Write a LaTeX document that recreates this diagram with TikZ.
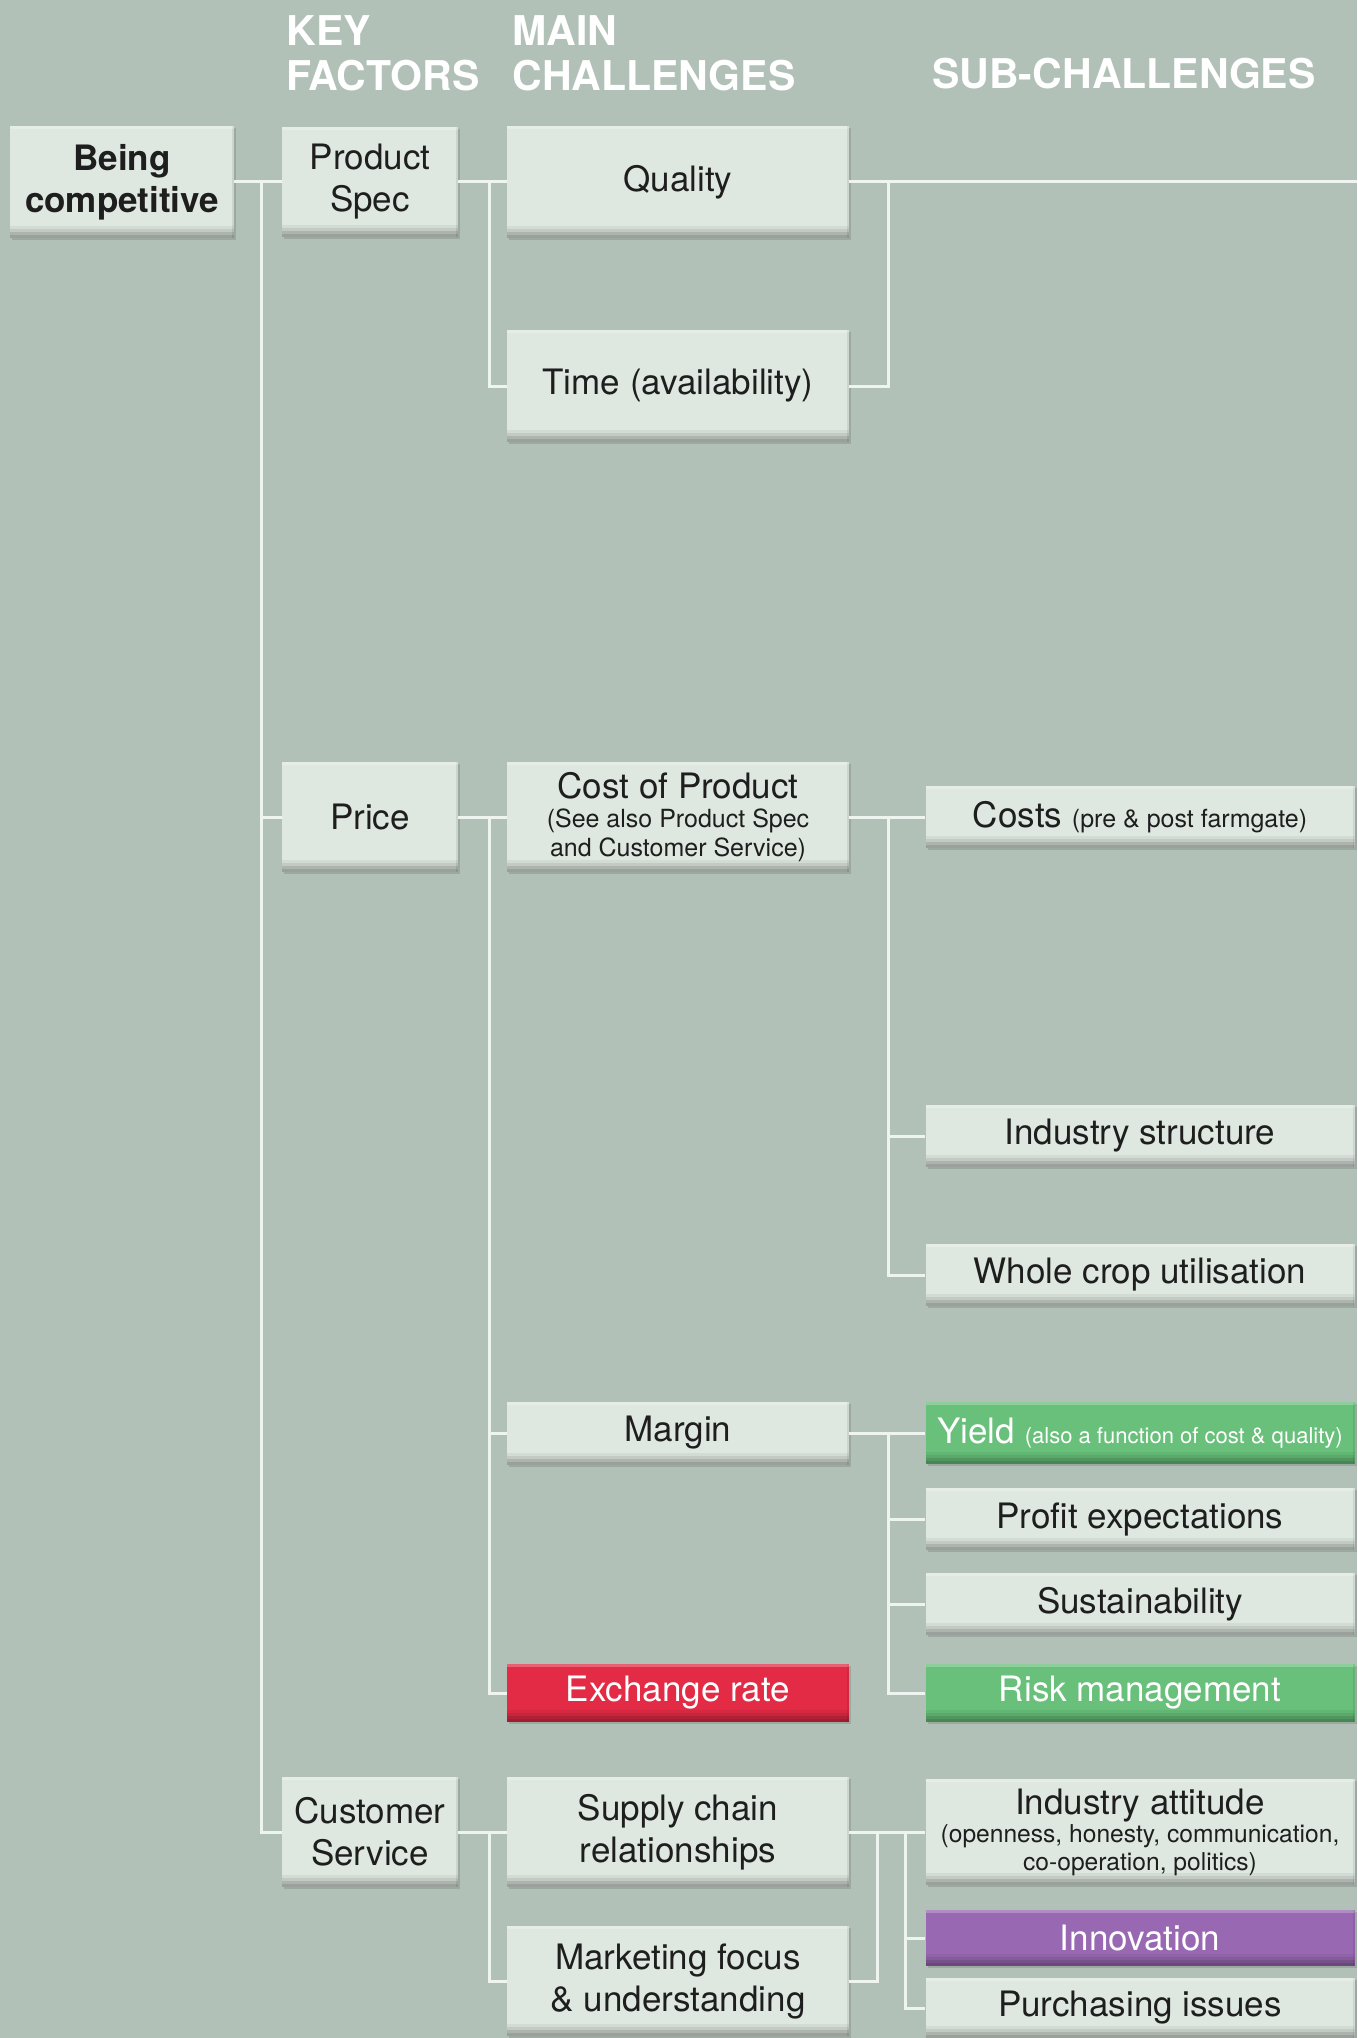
\documentclass[tikz,border=0pt]{standalone}
\usepackage{fontspec}
\setmainfont{TeX Gyre Heros}
\usepackage{tikz}
\usetikzlibrary{calc,shadows}

\definecolor{bgcol}{RGB}{177,193,183}
\definecolor{boxcol}{RGB}{222,231,224}
\definecolor{linecol}{RGB}{238,244,239}
\definecolor{txtcol}{RGB}{30,30,30}
\definecolor{redcol}{RGB}{227,43,69}
\definecolor{greencol}{RGB}{104,192,122}
\definecolor{purplecol}{RGB}{152,104,178}
\newcommand{\subtxt}[1]{{\fontsize{12.5}{14.5}\selectfont #1}}

\begin{document}
\begin{tikzpicture}[x=0.5pt,y=-0.5pt]
\tikzstyle{box}=[rectangle,fill=boxcol,text=txtcol,align=flush center,inner sep=0pt,
  font=\fontsize{17.5}{21}\selectfont,
  drop shadow={shadow xshift=1pt,shadow yshift=-1pt,fill=black,opacity=.12},
  path picture={
    \fill[black,opacity=.3] (path picture bounding box.south west) rectangle ([yshift=1.5pt]path picture bounding box.south east);
    \fill[black,opacity=.22] ([yshift=1.5pt]path picture bounding box.south west) rectangle ([yshift=3pt]path picture bounding box.south east);
    \fill[black,opacity=.12] ([yshift=3pt]path picture bounding box.south west) rectangle ([yshift=4.5pt]path picture bounding box.south east);
    \fill[black,opacity=.05] ([yshift=4.5pt]path picture bounding box.south west) rectangle ([yshift=6pt]path picture bounding box.south east);
    \fill[black,opacity=.08] (path picture bounding box.south east) rectangle ([xshift=-1pt]path picture bounding box.north east);
    \fill[white,opacity=.25] (path picture bounding box.north west) rectangle ([yshift=-1.5pt]path picture bounding box.north east);}]
\tikzstyle{root}=[box,text width=112pt,minimum height=56pt]
\tikzstyle{factor}=[box,text width=88pt,minimum height=55pt]
\tikzstyle{main}=[box,text width=171pt,minimum height=55pt]
\tikzstyle{sub}=[box,text width=214.5pt,minimum height=31pt]
\tikzstyle{head}=[text=white,font=\fontsize{20.5}{22.5}\selectfont\bfseries,align=left,anchor=north west,inner sep=0pt]
\tikzstyle{link}=[linecol,line width=1.5pt]

\fill[bgcol] (0,0) rectangle (1357,2038);
\useasboundingbox (0,0) rectangle (1357,2038);
\clip (0,0) rectangle (1357,2038);

\node[head] (kf) at (286,15) {KEY\\FACTORS};
\node[head] (mc) at (512,15) {MAIN\\CHALLENGES};
\node[head] (sch) at (932,58) {SUB-CHALLENGES};

\node[root] (bc) at (122,182) {\bfseries Being\\competitive};

\node[factor] (ps) at (370,182) {Product\\Spec};
\node[factor] (pr) at (370,817) {Price};
\node[factor] (cs) at (370,1832) {Customer\\Service};

\node[main,minimum height=56pt] (qu) at (678,182) {Quality};
\node[main,minimum height=56pt] (ti) at (678,386) {Time (availability)};
\node[main] (cp) at (678,817) {Cost of Product\\\subtxt{(See also Product Spec\\and Customer Service)\par}};
\node[main,minimum height=31.5pt] (ma) at (678,1433) {Margin};
\node[main,minimum height=29pt,fill=redcol,text=white] (ex) at (678,1693) {Exchange rate};
\node[main] (sc) at (678,1832) {Supply chain\\relationships};
\node[main] (mf) at (678,1981) {Marketing focus\\\& understanding};

\node[sub] (co) at (1140,817) {Costs \subtxt{(pre \& post farmgate)}};
\node[sub] (is) at (1140,1136) {Industry structure};
\node[sub] (wc) at (1140,1275) {Whole crop utilisation};
\node[sub,fill=greencol,text=white] (yi) at (1140,1433) {Yield {\fontsize{11}{13}\selectfont(also a function of cost \& quality)}};
\node[sub] (pe) at (1140,1519) {Profit expectations};
\node[sub] (su) at (1140,1604) {Sustainability};
\node[sub,minimum height=29pt,fill=greencol,text=white] (rm) at (1140,1693) {Risk management};
\node[sub,minimum height=53pt] (ia) at (1140,1832) {Industry attitude\\{\fontsize{12.3}{14}\selectfont(openness, honesty, communication,\\co-operation, politics)\par}};
\node[sub,minimum height=28pt,fill=purplecol,text=white] (in) at (1140,1938) {Innovation};
\node[sub,minimum height=30pt] (pu) at (1140,2008) {Purchasing issues};

\coordinate (t1) at (261,0);
\coordinate (t2) at (489,0);
\coordinate (t3) at (888,0);
\coordinate (t4) at (877,0);
\coordinate (t5) at (905,0);
\coordinate (qend) at (1357,182);

\draw[link] (bc.east) -- (ps.west);
\draw[link] (t1 |- bc.east) |- (pr.west);
\draw[link] (t1 |- bc.east) |- (cs.west);

\draw[link] (ps.east) -- (qu.west);
\draw[link] (t2 |- ps.east) |- (ti.west);
\draw[link] (qu.east) -- (qend);
\draw[link] (t3 |- qu.east) |- (ti.east);

\draw[link] (pr.east) -- (cp.west);
\draw[link] (t2 |- pr.east) |- (ma.west);
\draw[link] (t2 |- pr.east) |- (ex.west);
\draw[link] (cp.east) -- (co.west);
\draw[link] (t3 |- cp.east) |- (is.west);
\draw[link] (t3 |- cp.east) |- (wc.west);

\draw[link] (ma.east) -- (yi.west);
\draw[link] (t3 |- ma.east) |- (pe.west);
\draw[link] (t3 |- ma.east) |- (su.west);
\draw[link] (t3 |- ma.east) |- (rm.west);

\draw[link] (cs.east) -- (sc.west);
\draw[link] (t2 |- cs.east) |- (mf.west);
\draw[link] (sc.east) -- (ia.west);
\draw[link] (t4 |- sc.east) |- (mf.east);
\draw[link] (t5 |- sc.east) |- (in.west);
\draw[link] (t5 |- sc.east) |- (pu.west);
\end{tikzpicture}
\end{document}
